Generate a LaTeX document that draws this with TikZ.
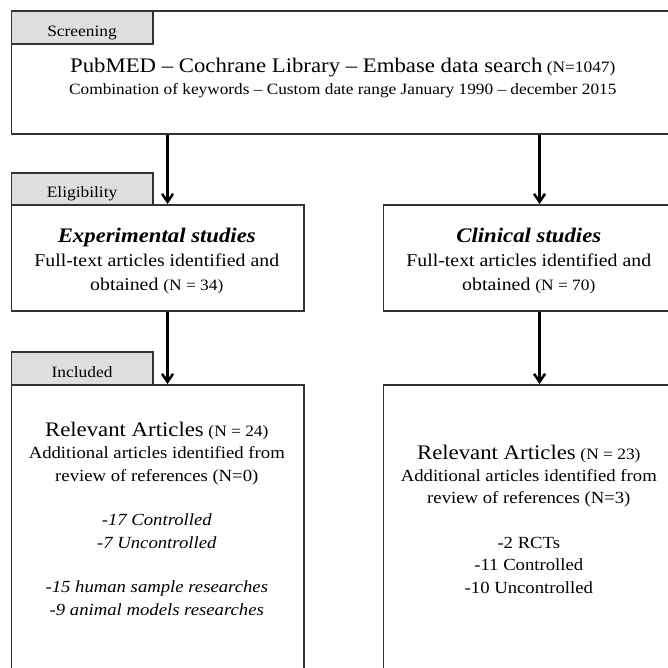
\documentclass[tikz,border=0pt]{standalone}
\usepackage{fontspec}
\setmainfont{Liberation Serif}[FakeStretch=1.1]
\usetikzlibrary{arrows.meta}
\definecolor{edge}{HTML}{333333}
\definecolor{tabgr}{HTML}{DEDEDE}
\newcommand{\nval}[1]{{\fontsize{15.8}{18}\selectfont #1}}
\newcommand{\bigln}[1]{{\fontsize{20.7}{22}\selectfont #1}}
\tikzset{
  box/.style={draw=edge,line width=1.5pt,fill=white,anchor=north west,inner sep=0pt,minimum width=292.4pt},
  tab/.style={draw=edge,line width=1.5pt,fill=tabgr,anchor=north west,inner sep=0pt,minimum width=141.4pt,minimum height=33pt},
  tablbl/.style={anchor=base,inner sep=0pt,font=\fontsize{15.8}{18}\selectfont},
  txt/.style={anchor=base,align=center,inner sep=0pt},
  arr/.style={-{Straight Barb[length=8pt,width=11pt]},line width=2.5pt,draw=black},
}
\begin{document}
\begin{tikzpicture}[x=1pt,y=-1pt]
  \path[use as bounding box,clip] (0,0) rectangle (668,667);
  % screening
  \node[box,minimum width=664.4pt,minimum height=123pt] (search) at (10.6,10) {};
  \node[tab] (scrtab) at (10.6,10) {};
  \node[tablbl] (scrlbl) at ([yshift=8pt]scrtab.south) {Screening};
  \node[txt,font=\fontsize{15.7}{21.5}\selectfont] (searchtxt) at (342.8,94)
    {\bigln{PubMED – Cochrane Library – Embase data search} \nval{(N=1047)}\\
     Combination of keywords – Custom date range January 1990 – december 2015};
  % eligibility
  \node[box,minimum height=106pt] (exp) at (10.6,204) {};
  \node[box,minimum height=106pt] (clin) at (382.6,204) {};
  \node[tab,minimum height=32pt] (elitab) at (10.6,172) {};
  \node[tablbl] (elilbl) at ([yshift=8pt]elitab.south) {Eligibility};
  \node[txt,font=\fontsize{18}{24}\selectfont] (exptxt) at (156.8,290.5)
    {\bigln{\textbf{\textit{Experimental studies}}}\\ Full-text articles identified and\\ obtained \nval{(N = 34)}};
  \node[txt,font=\fontsize{18}{24}\selectfont] (clintxt) at (528.8,290.5)
    {\bigln{\textbf{\textit{Clinical studies}}}\\ Full-text articles identified and\\ obtained \nval{(N = 70)}};
  % included
  \node[box,minimum height=300pt] (relexp) at (10.6,384) {};
  \node[box,minimum height=300pt] (relclin) at (382.6,384) {};
  \node[tab] (inctab) at (10.6,351) {};
  \node[tablbl] (inclbl) at ([yshift=8pt]inctab.south) {Included};
  \node[txt,font=\fontsize{17}{22.3}\selectfont] (relexptxt) at (156.8,615)
    {\bigln{Relevant Articles} \nval{(N = 24)}\\ Additional articles identified from\\ review of references (N=0)\\[22.3pt]
     \textit{-17 Controlled}\\ \textit{-7 Uncontrolled}\\[22.3pt]
     \textit{-15 human sample researches}\\ \textit{-9 animal models researches}};
  \node[txt,font=\fontsize{17}{22.3}\selectfont] (relclintxt) at (528.8,593)
    {\bigln{Relevant Articles} \nval{(N = 23)}\\ Additional articles identified from\\ review of references (N=3)\\[22.3pt]
     -2 RCTs\\ -11 Controlled\\ -10 Uncontrolled};
  % arrows
  \draw[arr] ([xshift=10pt]exp.north |- search.south) -- ([xshift=10pt]exp.north);
  \draw[arr] ([xshift=10pt]clin.north |- search.south) -- ([xshift=10pt]clin.north);
  \draw[arr] ([xshift=10pt]exp.south) -- ([xshift=10pt]relexp.north);
  \draw[arr] ([xshift=10pt]clin.south) -- ([xshift=10pt]relclin.north);
\end{tikzpicture}
\end{document}
